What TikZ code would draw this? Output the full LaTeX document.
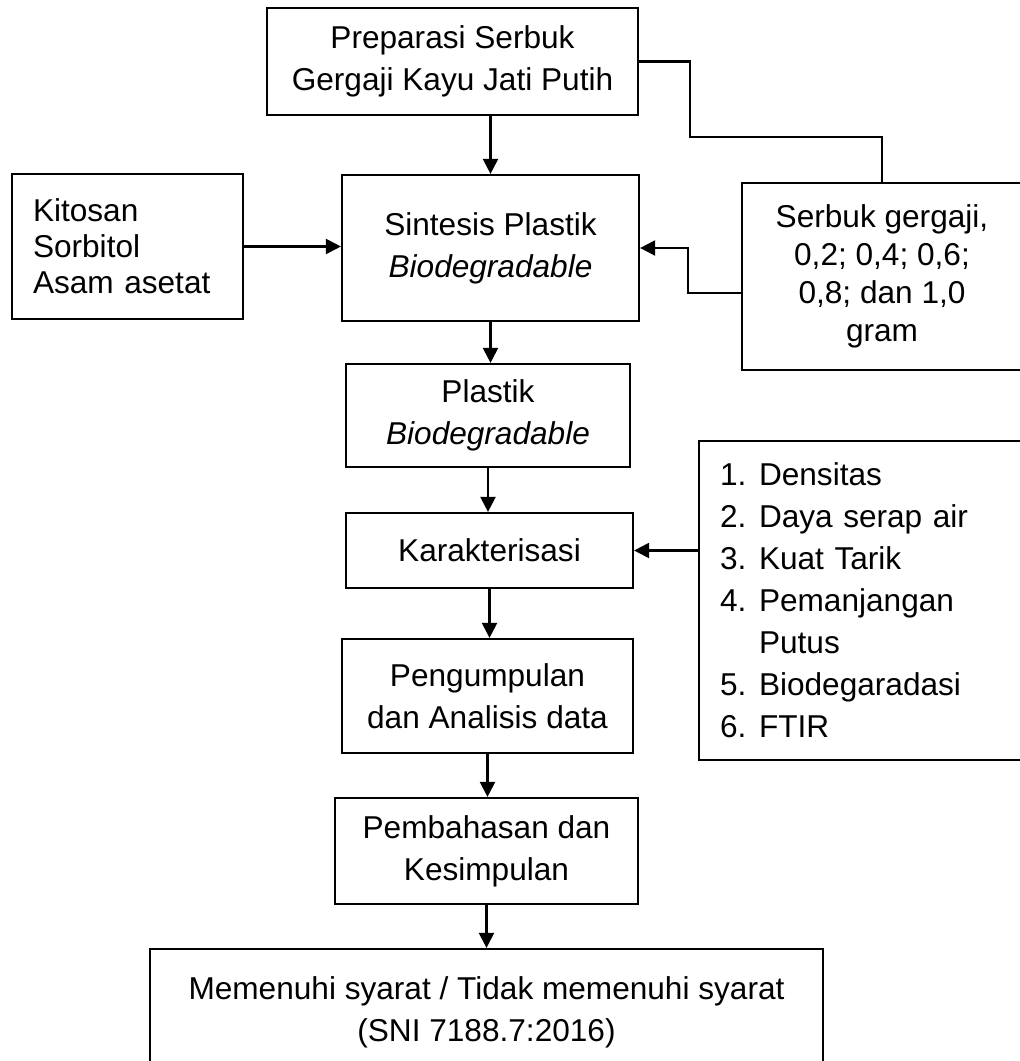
\documentclass[tikz,border=0pt]{standalone}
\usepackage{fontspec}
\setmainfont{Liberation Sans}
\usetikzlibrary{arrows.meta}
\begin{document}
\begin{tikzpicture}[x=0.5pt, y=-0.5pt,
    box/.style={draw, line width=1.1pt, inner sep=0pt, align=center, font=\fontsize{15.8}{21}\selectfont},
    arr/.style={line width=1.1pt, -{Triangle[width=7.5pt, length=7.5pt]}},
    link/.style={line width=1.1pt}]
    \useasboundingbox (0,0) rectangle (1019,1061);

    % Main flow
    \node[box, minimum width=185.5pt, minimum height=53.5pt] (prep) at (452.5, 61.5) {Preparasi Serbuk\\Gergaji Kayu Jati Putih};
    \node[box, minimum width=148.5pt, minimum height=73pt] (sintesis) at (490.5, 248) {Sintesis Plastik\\\textit{Biodegradable}};
    \node[box, minimum width=142pt, minimum height=51.5pt] (plastik) at (488, 415.5) {Plastik\\\textit{Biodegradable}};
    \node[box, minimum width=143.5pt, minimum height=37.5pt] (karakter) at (489.5, 550.5) {Karakterisasi};
    \node[box, minimum width=145.5pt, minimum height=57pt] (kumpul) at (487.5, 696) {Pengumpulan\\dan Analisis data};
    \node[box, minimum width=151.5pt, minimum height=53pt] (bahas) at (486.5, 851) {Pembahasan dan\\Kesimpulan};
    \node[box, minimum width=336.5pt, minimum height=63pt] (hasil) at (486.5, 1012) {Memenuhi syarat / Tidak memenuhi syarat\\(SNI 7188.7:2016)};

    % Side inputs
    \node[box, align=left, font=\fontsize{15.8}{18}\selectfont, text width=94.5pt, inner xsep=10.5pt, minimum height=72.5pt] (bahan) at (127.5, 246.5) {Kitosan\\Sorbitol\\Asam asetat};
    \node[box, font=\fontsize{15.8}{19}\selectfont, minimum width=140pt, minimum height=93.5pt] (serbuk) at (882, 276.5) {Serbuk gergaji,\\0,2; 0,4; 0,6;\\0,8; dan 1,0\\gram};
    \node[box, align=left, text width=140.5pt, inner xsep=10.5pt, minimum height=159.5pt] (uji) at (860.5, 600.5) {%
        \makebox[19.5pt][l]{1.}Densitas\\
        \makebox[19.5pt][l]{2.}Daya serap air\\
        \makebox[19.5pt][l]{3.}Kuat Tarik\\
        \makebox[19.5pt][l]{4.}Pemanjangan\\
        \makebox[19.5pt][l]{}Putus\\
        \makebox[19.5pt][l]{5.}Biodegaradasi\\
        \makebox[19.5pt][l]{6.}FTIR};

    % Connectors
    \coordinate (knee) at (690, 137);
    \draw[link] (prep.east) -| (knee) -| (serbuk.north);
    \draw[arr] (prep.south -| sintesis.north) -- (sintesis.north);
    \draw[arr] (bahan.east) -- (bahan.east -| sintesis.west);
    \draw[arr] ([yshift=-8.25pt]serbuk.west) -- ++(-53, 0) |- (sintesis.east);
    \draw[arr] (sintesis.south) -- (sintesis.south |- plastik.north);
    \draw[arr] (plastik.south) -- (plastik.south |- karakter.north);
    \draw[arr] (uji.west |- karakter.east) -- (karakter.east);
    \draw[arr] (karakter.south) -- (karakter.south |- kumpul.north);
    \draw[arr] (kumpul.south) -- (kumpul.south |- bahas.north);
    \draw[arr] (bahas.south) -- (hasil.north);
\end{tikzpicture}
\end{document}
